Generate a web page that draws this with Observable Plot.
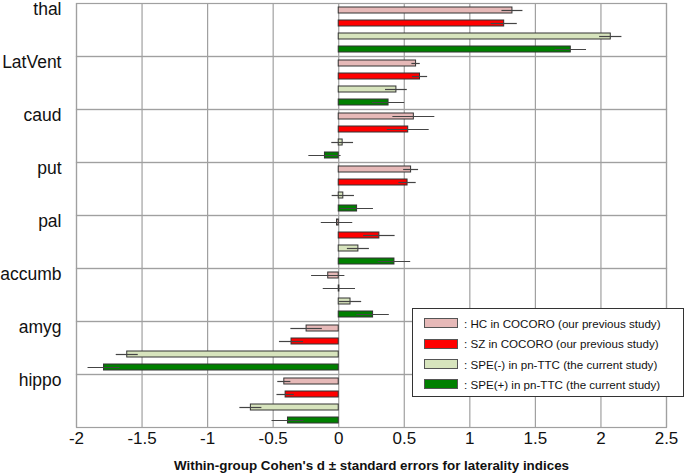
<!DOCTYPE html>
<html>
<head>
<meta charset="utf-8">
<script src="https://cdn.jsdelivr.net/npm/d3@7"></script>
<script src="https://cdn.jsdelivr.net/npm/@observablehq/plot@0.6"></script>
<style>
  html, body { margin: 0; padding: 0; background: white; }
  #wrap { position: relative; width: 685px; height: 476px; font-family: "Liberation Sans", Arial, sans-serif; }
  #legend { position: absolute; left: 412px; top: 308px; width: 272px; height: 89px; box-sizing: border-box;
            border: 1px solid #333; background: white; }
  .row { position: absolute; left: 11px; height: 12px; display: flex; align-items: center; }
  .sw { width: 34px; height: 10px; box-sizing: border-box; border: 1px solid #555; margin-right: 6px; }
  .lt { font-size: 11.6px; color: #111; white-space: nowrap; }
  svg g[aria-label="x-axis label"] text { font-weight: bold; font-size: 13.4px; }
</style>
</head>
<body>
<div id="wrap"></div>
<script>
const regions = ["thal", "LatVent", "caud", "put", "pal", "accumb", "amyg", "hippo"];
const groups = [
  "HC in COCORO (our previous study)",
  "SZ in COCORO (our previous study)",
  "SPE(-) in pn-TTC (the current study)",
  "SPE(+) in pn-TTC (the current study)"
];
const colors = ["#e6b9b8", "#ff0000", "#d7e4bd", "#008000"];
const xTicks = [-2, -1.5, -1, -0.5, 0, 0.5, 1, 1.5, 2, 2.5];
const xLabel = "Within-group Cohen's d \u00b1 standard errors for laterality indices";

const hcD   = [1.325, 0.59, 0.573, 0.552, -0.013, -0.08, -0.245, -0.415];
const hcSE  = [0.08, 0.032, 0.16, 0.057, 0.12, 0.127, 0.12, 0.05];
const szD   = [1.262, 0.62, 0.53, 0.525, 0.31, 0.005, -0.36, -0.405];
const szSE  = [0.1, 0.058, 0.16, 0.066, 0.12, 0.123, 0.092, 0.066];
const speNegD  = [2.075, 0.44, 0.03, 0.035, 0.15, 0.09, -1.613, -0.67];
const speNegSE = [0.085, 0.083, 0.083, 0.085, 0.084, 0.085, 0.084, 0.084];
const spePosD  = [1.77, 0.38, -0.105, 0.14, 0.425, 0.262, -1.79, -0.387];
const spePosSE = [0.12, 0.123, 0.123, 0.125, 0.124, 0.124, 0.122, 0.122];

const series = [[hcD, hcSE], [szD, szSE], [speNegD, speNegSE], [spePosD, spePosSE]];
const data = [];
regions.forEach((r, i) => {
  series.forEach(([d, se], g) => {
    data.push({region: r, group: groups[g], d: d[i], se: se[i]});
  });
});

const chart = Plot.plot({
  width: 685,
  height: 476,
  marginTop: 2,
  marginBottom: 49,
  marginLeft: 76,
  marginRight: 19,
  style: {fontFamily: "'Liberation Sans', Arial, sans-serif", fontSize: "17px", background: "white", color: "#111"},
  fy: {domain: regions, padding: 0, axis: null},
  y: {domain: groups, paddingInner: 0.55, paddingOuter: 0.3, axis: null},
  x: {
    domain: [-2, 2.5],
    ticks: xTicks,
    tickFormat: d => String(d),
    tickSize: 0,
    tickPadding: 4,
    label: xLabel,
    labelAnchor: "center",
    labelArrow: "none",
    labelOffset: 42
  },
  color: {domain: groups, range: colors},
  marks: [
    Plot.gridX(xTicks, {stroke: "#a0a0a0", strokeOpacity: 1, strokeWidth: 1.2}),
    Plot.frame({stroke: "#a0a0a0", strokeWidth: 1.2}),
    Plot.barX(data, {fy: "region", y: "group", x: "d", fill: "group", stroke: "#333", strokeWidth: 1}),
    Plot.ruleY(data, {fy: "region", y: "group", x1: d => d.d - d.se, x2: d => d.d + d.se, stroke: "#444", strokeWidth: 1.2}),
    Plot.text(regions, {fy: d => d, y: () => groups[0], text: d => d, frameAnchor: "left", textAnchor: "end", dx: -15, dy: -1, fontSize: 17.5, fill: "#111"})
  ]
});

const wrap = document.getElementById("wrap");
wrap.appendChild(chart);

const legend = document.createElement("div");
legend.id = "legend";
const rowTops = [8, 28.5, 49, 69];
groups.forEach((g, i) => {
  const row = document.createElement("div");
  row.className = "row";
  row.style.top = rowTops[i] + "px";
  const sw = document.createElement("div");
  sw.className = "sw";
  sw.style.background = colors[i];
  const t = document.createElement("span");
  t.className = "lt";
  t.textContent = ": " + g;
  row.appendChild(sw);
  row.appendChild(t);
  legend.appendChild(row);
});
wrap.appendChild(legend);
</script>
</body>
</html>
